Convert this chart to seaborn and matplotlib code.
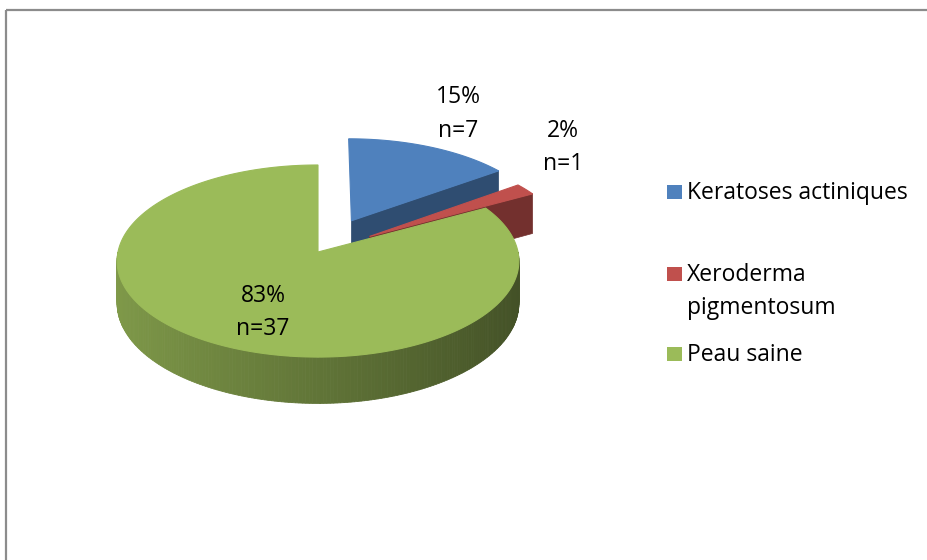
import numpy as np
import matplotlib
matplotlib.use("Agg")
import matplotlib.pyplot as plt
from matplotlib.patches import Polygon, Rectangle
import seaborn as sns

# ---------------- data ----------------
categories = ["Keratoses actiniques", "Xeroderma pigmentosum", "Peau saine"]
legend_labels = ["Keratoses actiniques", "Xeroderma\npigmentosum", "Peau saine"]
percentages = [15, 2, 83]
counts = [7, 1, 37]

# ---------------- style ----------------
sns.set_style("white")
plt.rcParams['font.family'] = ['Open Sans', 'DejaVu Sans']
top_colors = sns.color_palette(["#4F81BD", "#C0504D", "#9BBB59"])
explode = [0.38, 0.31, 0.0]

# projection of the 3-D pie (pixel-like axes, y down)
CX, CY = 318.0, 252.0     # centre of pie top face
A, B = 200.0, 95.2        # horizontal / vertical radii
K = 0.094                 # perspective strength
D = 42.0                  # thickness


def proj(u, v, h=0.0):
    s = 1.0 / (1.0 - K * np.asarray(v))
    return CX + A * np.asarray(u) * s, CY + (B * np.asarray(v) + D * h) * s


def shade(c, f):
    return tuple(np.clip(np.array(c[:3]) * f, 0, 1))


fig = plt.figure(figsize=(9.27, 5.6), dpi=100)
ax = fig.add_axes([0, 0, 1, 1])
ax.set_xlim(0, 927)
ax.set_ylim(560, 0)
ax.axis('off')

# chart-area border
ax.add_patch(Rectangle((6, 10), 960, 600, fill=False, edgecolor="#8c8c8c", lw=1.6))

start = 0.0
for i, pct in enumerate(percentages):
    t0 = start
    t1 = start + pct / 100.0 * 2 * np.pi
    start = t1
    mid = 0.5 * (t0 + t1)
    eu, ev = explode[i] * np.sin(mid), -explode[i] * np.cos(mid)
    col = top_colors[i]

    # outer (front) wall with gradient
    lo, hi = max(t0, np.pi / 2), min(t1, 3 * np.pi / 2)
    if hi > lo:
        ts = np.linspace(lo, hi, 200)
        left = np.array(shade(col, 0.82))
        right = np.array(shade(col, 0.43))
        for a, b in zip(ts[:-1], ts[1:]):
            ua, va = eu + np.sin(a), ev - np.cos(a)
            ub, vb = eu + np.sin(b), ev - np.cos(b)
            xs1, ys1 = proj([ua, ub], [va, vb], 0)
            xs2, ys2 = proj([ub, ua], [vb, va], 1)
            f = (0.5 * (ua + ub) + 1) / 2
            c = left * (1 - f) + right * f
            ax.add_patch(Polygon(np.column_stack([np.r_[xs1, xs2], np.r_[ys1, ys2]]),
                                 closed=True, facecolor=c, edgecolor=c, lw=0.6))

    # visible radial faces
    for t, vis in ((t1, np.sin(t1) > 1e-6), (t0, -np.sin(t0) > 1e-6)):
        if vis:
            ur, vr = eu + np.sin(t), ev - np.cos(t)
            xa, ya = proj([eu, ur], [ev, vr], 0)
            xb, yb = proj([ur, eu], [vr, ev], 1)
            sc = shade(col, 0.6)
            ax.add_patch(Polygon(np.column_stack([np.r_[xa, xb], np.r_[ya, yb]]),
                                 closed=True, facecolor=sc, edgecolor=sc, lw=0.5))

    # top face
    ts = np.linspace(t0, t1, 300)
    xt, yt = proj(eu + np.sin(ts), ev - np.cos(ts), 0)
    xc, yc = proj(eu, ev, 0)
    ax.add_patch(Polygon(np.column_stack([np.r_[xc, xt], np.r_[yc, yt]]),
                         closed=True, facecolor=col, edgecolor=col, lw=0.8))

# ---------------- data labels ----------------
fs = 16.5
label_pos = [(458, 103, 137), (563, 137, 170), (263, 302, 335)]
for (x, y1, y2), p, n in zip(label_pos, percentages, counts):
    ax.text(x, y1, f"{p}%", ha='center', va='baseline', fontsize=fs, color='black')
    ax.text(x, y2, f"n={n}", ha='center', va='baseline', fontsize=fs, color='black')

# ---------------- legend ----------------
leg_y = [199, 281, 361]
line_gap = 33
for lab, y, c in zip(legend_labels, leg_y, top_colors):
    ax.add_patch(Rectangle((667, y - 14), 15, 14, facecolor=c, edgecolor='none'))
    for j, line in enumerate(lab.split("\n")):
        ax.text(687, y + j * line_gap, line, ha='left', va='baseline', fontsize=fs,
                color='black')

fig.savefig("out.png", dpi=100)
